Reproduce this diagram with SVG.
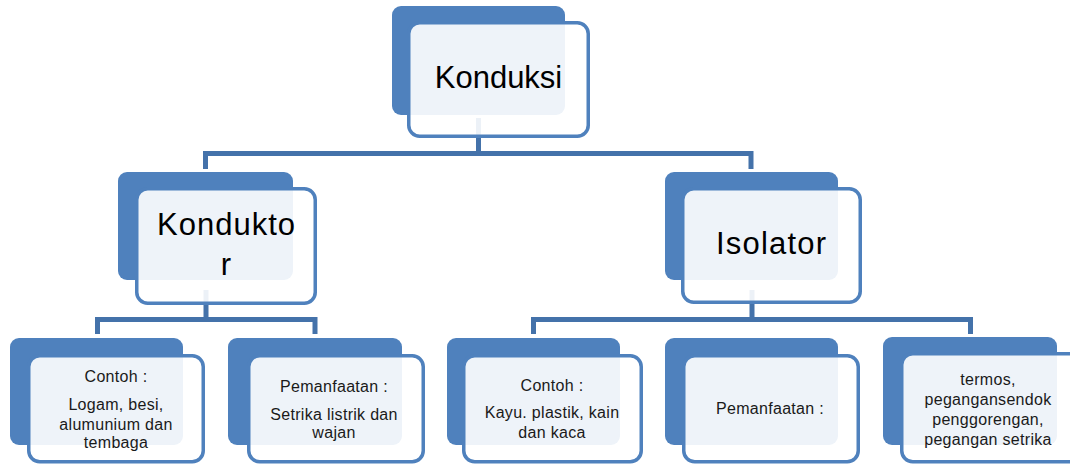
<svg xmlns="http://www.w3.org/2000/svg" width="1070" height="466" viewBox="0 0 1070 466">
<style>
.back{fill:#4F81BD;}
.front{fill:#FFFFFF;fill-opacity:0.9;stroke:#4F81BD;stroke-width:3.5;}
.conn{fill:none;stroke:#4472AA;stroke-width:5;stroke-linejoin:miter;}
.big{font-family:"Liberation Sans",Arial,sans-serif;font-size:31px;fill:#000;text-anchor:middle;}
.small{font-family:"Liberation Sans",Arial,sans-serif;font-size:16px;fill:#1a1a1a;text-anchor:middle;letter-spacing:0.3px;}
</style>
<rect width="1070" height="466" fill="#FFFFFF"/>
<g id="connectors">
<path class="conn" d="M478.5 118 V153.5 M205.5 169 V153.5 H751 V169"/>
<path class="conn" d="M206 290 V319.5 M97.5 334 V319.5 H315 V334"/>
<path class="conn" d="M752 290 V319.5 M533.5 334 V319.5 H970.5 V334"/>
</g>
<g id="konduksi">
<rect class="back" x="392" y="6" width="173" height="109" rx="9"/>
<rect class="front" x="408.75" y="22.75" width="179.5" height="113.5" rx="11"/>
<text class="big" x="498.5" y="88">Konduksi</text>
</g>
<g id="konduktor">
<rect class="back" x="118" y="172" width="175" height="108" rx="9"/>
<rect class="front" x="136.75" y="188.75" width="178.5" height="114.5" rx="11"/>
<text class="big" x="226" y="235" textLength="138">Kondukto</text>
<text class="big" x="226" y="275">r</text>
</g>
<g id="isolator">
<rect class="back" x="665" y="172" width="173" height="108" rx="9"/>
<rect class="front" x="682.75" y="188.75" width="177.5" height="113.5" rx="11"/>
<text class="big" x="771" y="254" textLength="110">Isolator</text>
</g>
<g id="contoh-konduktor">
<rect class="back" x="10" y="338" width="173" height="107" rx="9"/>
<rect class="front" x="28.75" y="355.75" width="174.5" height="106" rx="11"/>
<text class="small" x="116" y="382">Contoh :</text>
<text class="small" x="116" y="410">Logam, besi,</text>
<text class="small" x="116" y="430">alumunium dan</text>
<text class="small" x="116" y="448">tembaga</text>
</g>
<g id="pemanfaatan-konduktor">
<rect class="back" x="228" y="338" width="174" height="107" rx="9"/>
<rect class="front" x="248.75" y="355.75" width="174.5" height="106" rx="11"/>
<text class="small" x="334" y="392">Pemanfaatan :</text>
<text class="small" x="334" y="420">Setrika listrik dan</text>
<text class="small" x="334" y="438">wajan</text>
</g>
<g id="contoh-isolator">
<rect class="back" x="447" y="338" width="173" height="107" rx="9"/>
<rect class="front" x="463.75" y="355.75" width="177.5" height="106" rx="11"/>
<text class="small" x="552" y="391">Contoh :</text>
<text class="small" x="552" y="418">Kayu. plastik, kain</text>
<text class="small" x="552" y="438">dan kaca</text>
</g>
<g id="pemanfaatan-isolator">
<rect class="back" x="665" y="338" width="173" height="107" rx="9"/>
<rect class="front" x="683.75" y="355.75" width="174.5" height="106" rx="11"/>
<text class="small" x="770" y="414">Pemanfaatan :</text>
</g>
<g id="contoh-pemanfaatan-isolator">
<rect class="back" x="883" y="337" width="174" height="108" rx="9"/>
<rect class="front" x="901.75" y="353.75" width="178" height="108" rx="11"/>
<text class="small" x="988" y="385">termos,</text>
<text class="small" x="988" y="405">pegangansendok</text>
<text class="small" x="988" y="425">penggorengan,</text>
<text class="small" x="988" y="445">pegangan setrika</text>
</g>
</svg>
